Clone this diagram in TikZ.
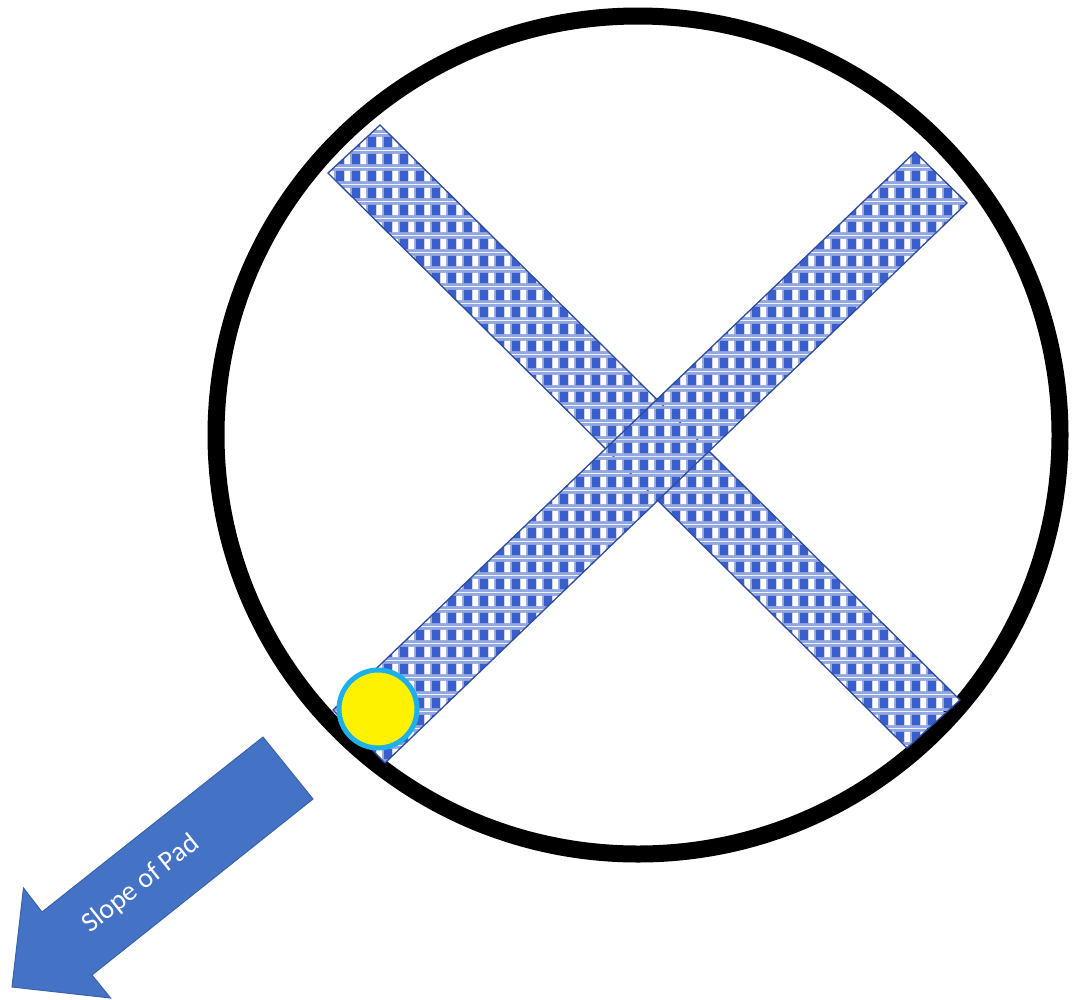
\documentclass[tikz,border=0pt]{standalone}
\usepackage{fontspec}
\setmainfont{Carlito}
\usetikzlibrary{patterns}
\definecolor{padblue}{HTML}{3A5FCC}
\definecolor{padlight}{HTML}{93A8E2}
\definecolor{padedge}{HTML}{2E4C9E}
\definecolor{arrowblue}{HTML}{4472C4}
\definecolor{arrowedge}{HTML}{3A63AE}
\definecolor{ringcyan}{HTML}{1CB0EC}
\pgfdeclarepatterninherentlycolored{plaid}{\pgfpointorigin}{\pgfpoint{16pt}{17pt}}{\pgfpoint{16pt}{17pt}}{%
  \pgfsetfillcolor{padlight}%
  \pgfpathrectangle{\pgfpointorigin}{\pgfpoint{16pt}{17pt}}\pgfusepath{fill}%
  \pgfsetfillcolor{padblue}%
  \pgfpathrectangle{\pgfpoint{0pt}{3pt}}{\pgfpoint{9pt}{11pt}}\pgfusepath{fill}%
  \pgfsetfillcolor{white}%
  \pgfpathrectangle{\pgfpoint{9pt}{3pt}}{\pgfpoint{6pt}{11pt}}\pgfusepath{fill}%
}
\tikzset{
  padbar/.style={pattern=plaid, draw=padedge, line width=1.3pt, line join=miter},
  rim/.style={draw=black, line width=17pt},
  ball/.style={fill=yellow, draw=ringcyan, line width=5pt},
  bigarrow/.style={fill=arrowblue, draw=arrowedge, line width=1pt, line join=miter},
  arrowtext/.style={text=white, font=\fontsize{28}{32}\selectfont, rotate=38.4, inner sep=0pt}
}
\begin{document}
\begin{tikzpicture}[x=1pt,y=-1pt]
\useasboundingbox[fill=white] (0,0) rectangle (1078,999);
% outer rim
\draw[rim] (638,435) ellipse [x radius=422, y radius=419];
% bar NW-SE
\draw[padbar] (328,173) -- (380,125) -- (960,700) -- (907,748) -- cycle;
% bar NE-SW
\draw[padbar] (915,152) -- (967,203) -- (385,763) -- (333,710) -- cycle;
% ball
\draw[ball] (378,709) circle [radius=39];
% slope arrow
\draw[bigarrow] (263,737) -- (313,799) -- (92,975) -- (110.5,998) -- (12,987) -- (23.5,888) -- (42,912) -- cycle;
\node[arrowtext] (slope) at (141,884) {Slope of Pad};
\end{tikzpicture}
\end{document}
